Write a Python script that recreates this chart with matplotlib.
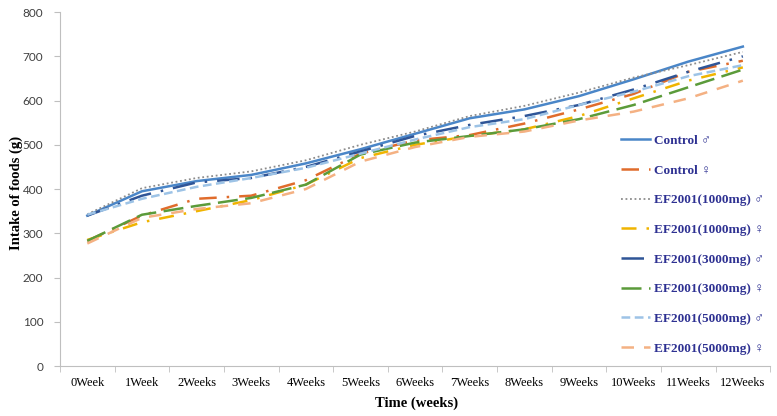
import matplotlib
matplotlib.use("Agg")
import matplotlib.pyplot as plt
import numpy as np

categories = ["0Week", "1Week", "2Weeks", "3Weeks", "4Weeks", "5Weeks", "6Weeks",
              "7Weeks", "8Weeks", "9Weeks", "10Weeks", "11Weeks", "12Weeks"]

control_m = [340, 395, 418, 432, 458, 490, 525, 560, 580, 610, 648, 688, 722]
control_f = [283, 340, 378, 385, 420, 480, 510, 522, 548, 580, 615, 665, 690]
ef1000_m = [343, 402, 425, 440, 465, 500, 530, 565, 588, 618, 652, 680, 710]
ef1000_f = [285, 325, 350, 375, 410, 470, 500, 520, 535, 565, 605, 645, 675]
ef3000_m = [340, 385, 415, 425, 450, 485, 520, 545, 565, 590, 625, 665, 700]
ef3000_f = [283, 342, 362, 380, 410, 478, 505, 520, 535, 558, 590, 630, 670]
ef5000_m = [342, 378, 405, 425, 448, 480, 512, 540, 558, 590, 620, 655, 680]
ef5000_f = [277, 335, 355, 368, 400, 462, 495, 518, 530, 555, 575, 605, 645]

labels = ["Control ♂", "Control ♀", "EF2001(1000mg) ♂", "EF2001(1000mg) ♀",
          "EF2001(3000mg) ♂", "EF2001(3000mg) ♀", "EF2001(5000mg) ♂", "EF2001(5000mg) ♀"]

serif = ["Liberation Serif", "DejaVu Serif"]

fig = plt.figure(figsize=(7.77, 4.16), dpi=100)
ax = fig.add_axes([0.0772, 0.12, 0.914, 0.851])

x = np.arange(len(categories))
series = [control_m, control_f, ef1000_m, ef1000_f, ef3000_m, ef3000_f, ef5000_m, ef5000_f]
styles = [
    dict(color="#4a86c8", linestyle="-", lw=1.8),
    dict(color="#e06c2c", linestyle=(0, (7, 4, 1, 4)), lw=1.8),
    dict(color="#8c8c8c", linestyle=(0, (1, 1.5)), lw=1.3),
    dict(color="#f0b400", linestyle=(0, (6, 4, 1, 4)), lw=1.8),
    dict(color="#2f5597", linestyle=(0, (9, 4, 1, 4)), lw=1.8),
    dict(color="#5b9b3a", linestyle=(0, (8, 3)), lw=1.8),
    dict(color="#9dc3e6", linestyle=(0, (3.5, 1.8)), lw=1.8),
    dict(color="#f4b183", linestyle=(0, (5, 4)), lw=1.8),
]
for s, lab, st in zip(series, labels, styles):
    ax.plot(x, s, label=lab, **st)

ax.set_xlim(-0.5, len(categories) - 0.5)
ax.set_ylim(0, 800)
ax.set_yticks(np.arange(0, 801, 100))
ax.set_xticks(x)
ax.set_xticklabels(categories, family=serif, fontsize=9)
for t in ax.get_yticklabels():
    t.set_family(["Lato", "DejaVu Sans"])
    t.set_fontsize(8.5)
    t.set_color("#404040")
ax.set_xticks(np.arange(-0.5, len(categories), 1), minor=True)
ax.tick_params(axis="x", which="major", length=0, pad=8)
ax.tick_params(axis="x", which="minor", length=4, color="#bfbfbf", direction="out")
ax.tick_params(axis="y", length=4, color="#bfbfbf", direction="out", pad=8)

for sp in ["top", "right"]:
    ax.spines[sp].set_visible(False)
for sp in ["left", "bottom"]:
    ax.spines[sp].set_color("#bfbfbf")

ax.set_xlabel("Time (weeks)", family=serif, fontsize=10.5, fontweight="bold", va="center")
ax.set_ylabel("Intake of foods (g)", family=serif, fontsize=10.5, fontweight="bold", va="center")
ax.xaxis.set_label_coords((417 - 60) / 710.2, -(403 - 366) / 354.0)
ax.yaxis.set_label_coords(-(60 - 16) / 710.2, (366 - 193) / 354.0)

leg = ax.legend(loc="upper left", bbox_to_anchor=(609 / 777, 1 - 123 / 416),
                bbox_transform=fig.transFigure, frameon=False,
                handlelength=2.2, handletextpad=0.3, labelspacing=1.32,
                prop=dict(family=serif, size=9.5, weight="bold"))
for t in leg.get_texts():
    t.set_color("#2e3192")

fig.savefig("out.png", dpi=100)
